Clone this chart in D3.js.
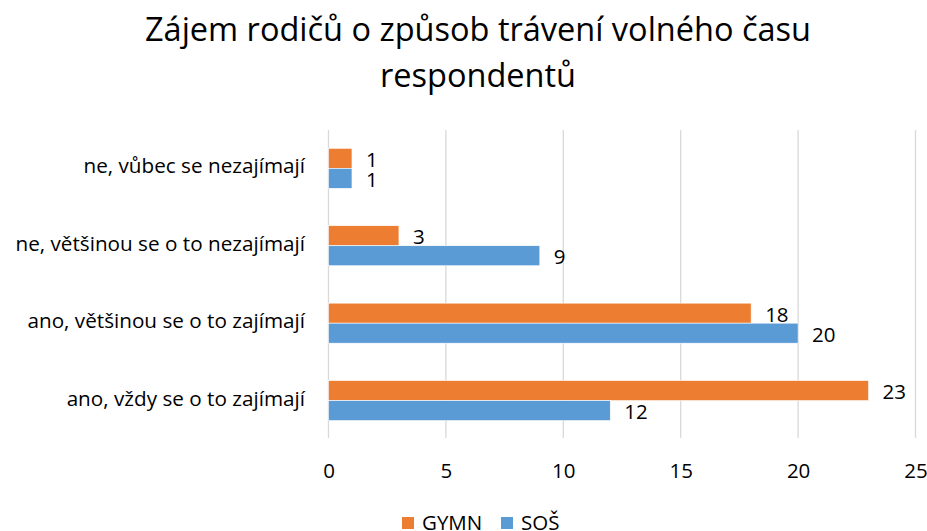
<!DOCTYPE html>
<html>
<head>
<meta charset="utf-8">
<script src="https://cdn.jsdelivr.net/npm/d3@7"></script>
<style>
  html, body { margin: 0; padding: 0; background: #fff; }
  svg { display: block; }
  text { font-family: "Open Sans", Lato, sans-serif; fill: #000; }
</style>
</head>
<body>
<svg id="chart" width="927" height="531"></svg>
<script>
const titleLines = ["Zájem rodičů o způsob trávení volného času", "respondentů"];
const categories = ["ne, vůbec se nezajímají", "ne, většinou se o to nezajímají", "ano, většinou se o to zajímají", "ano, vždy se o to zajímají"];
const seriesNames = ["GYMN", "SOŠ"];
const gymn = [1, 3, 18, 23];
const sos = [1, 9, 20, 12];
const xTicks = [0, 5, 10, 15, 20, 25];
const colors = {"GYMN": "#ED7D31", "SOŠ": "#5B9BD5"};

const seriesValues = {"GYMN": gymn, "SOŠ": sos};
const svg = d3.select("#chart");
const FONT = "'Open Sans', Lato, sans-serif";

const x = d3.scaleLinear().domain([0, 25]).range([328.5, 915.5]);
const y = d3.scaleBand().domain(categories).range([129.6, 439.3]).paddingInner(0.483).paddingOuter(0.2415);
const ySub = d3.scaleBand().domain(seriesNames).range([0, y.bandwidth()]);

// title
svg.append("g").selectAll("text").data(titleLines).join("text")
  .attr("x", 478).attr("y", (d, i) => 41 + i * 46)
  .attr("text-anchor", "middle").style("font-size", "32.5px").text(d => d);

// gridlines
svg.append("g").selectAll("line").data(xTicks).join("line")
  .attr("x1", d => x(d)).attr("x2", d => x(d))
  .attr("y1", 130).attr("y2", 438)
  .attr("stroke", "#d9d9d9").attr("stroke-width", 1.3);

// x axis labels
const xAxis = d3.axisBottom(x).tickValues(xTicks).tickSize(0).tickPadding(0);
const gx = svg.append("g").attr("transform", "translate(0,478)").call(xAxis);
gx.select(".domain").remove();
gx.selectAll("text").style("font-size", "20.5px").style("font-family", FONT).attr("fill", "#000").attr("y", 0).attr("dy", "0");

// y axis labels
const yAxis = d3.axisLeft(y).tickSize(0).tickPadding(0);
const gy = svg.append("g").attr("transform", "translate(305,0)").call(yAxis);
gy.select(".domain").remove();
gy.selectAll("text").style("font-size", "20.7px").style("font-family", FONT).attr("fill", "#000").attr("dy", "0.24em");

// bars
const flat = [];
categories.forEach((c, i) => seriesNames.forEach(s => flat.push({c, s, v: seriesValues[s][i]})));

svg.append("g").selectAll("rect").data(flat).join("rect")
  .attr("x", x(0))
  .attr("y", d => y(d.c) + ySub(d.s))
  .attr("width", d => x(d.v) - x(0))
  .attr("height", ySub.bandwidth())
  .attr("fill", d => colors[d.s])
  .attr("stroke", "#fff").attr("stroke-width", 0.6);

// data labels
svg.append("g").selectAll("text").data(flat).join("text")
  .attr("x", d => x(d.v) + 14)
  .attr("y", d => y(d.c) + ySub(d.s) + ySub.bandwidth() / 2)
  .attr("dy", "0.42em")
  .style("font-size", "20.5px")
  .text(d => d.v);

// legend
const legendItems = [{name: "GYMN", x: 402}, {name: "SOŠ", x: 501}];
const lg = svg.append("g");
lg.selectAll("rect").data(legendItems).join("rect")
  .attr("x", d => d.x).attr("y", 517).attr("width", 12).attr("height", 12)
  .attr("fill", d => colors[d.name]);
lg.selectAll("text").data(legendItems).join("text")
  .attr("x", d => d.x + 20).attr("y", 530)
  .style("font-size", "20.5px").text(d => d.name);
</script>
</body>
</html>
